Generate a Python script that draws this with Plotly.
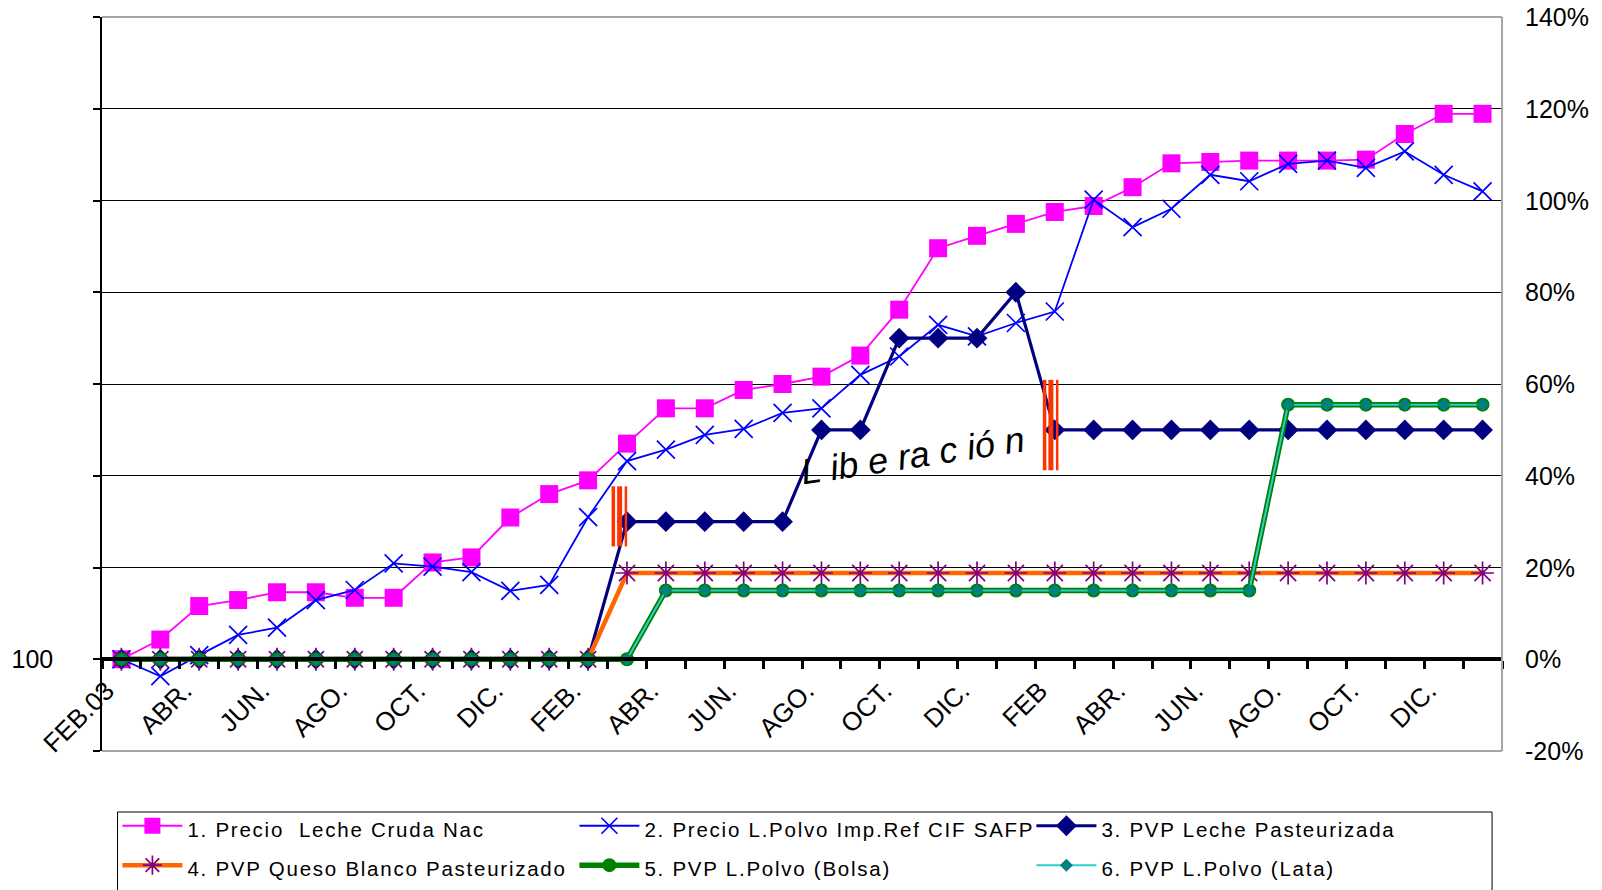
import plotly.graph_objects as go

months = ["FEB.03", "MAR.", "ABR.", "MAY.", "JUN.", "JUL.", "AGO.", "SEP.", "OCT.", "NOV.", "DIC.", "ENE.",
          "FEB.", "MAR.", "ABR.", "MAY.", "JUN.", "JUL.", "AGO.", "SEP.", "OCT.", "NOV.", "DIC.", "ENE.",
          "FEB", "MAR.", "ABR.", "MAY.", "JUN.", "JUL.", "AGO.", "SEP.", "OCT.", "NOV.", "DIC.", "ENE."]

leche_cruda = [0, 4.3, 11.6, 12.9, 14.6, 14.6, 13.4, 13.4, 21.1, 22.2, 30.9, 36.0,
               39.0, 47.0, 54.7, 54.7, 58.7, 60.0, 61.6, 66.2, 76.2, 89.6, 92.3, 94.9,
               97.5, 98.8, 102.9, 108.1, 108.4, 108.7, 108.7, 108.7, 108.9, 114.5, 118.9, 118.9]
polvo_imp = [0, -3.7, 0.9, 5.3, 6.9, 12.9, 15.1, 20.9, 20.2, 19.0, 14.9, 16.2,
             31.0, 43.2, 45.7, 48.9, 50.2, 53.7, 54.7, 62.0, 66.0, 72.9, 70.4, 73.3,
             75.8, 100.2, 94.2, 98.2, 105.6, 104.2, 108.0, 108.7, 107.1, 110.7, 105.6, 102.0]
leche_past = [0, 0, 0, 0, 0, 0, 0, 0, 0, 0, 0, 0,
              0, 30, 30, 30, 30, 30, 50, 50, 70, 70, 70, 80,
              50, 50, 50, 50, 50, 50, 50, 50, 50, 50, 50, 50]
queso = [0, 0, 0, 0, 0, 0, 0, 0, 0, 0, 0, 0,
         0, 18.8, 18.8, 18.8, 18.8, 18.8, 18.8, 18.8, 18.8, 18.8, 18.8, 18.8,
         18.8, 18.8, 18.8, 18.8, 18.8, 18.8, 18.8, 18.8, 18.8, 18.8, 18.8, 18.8]
polvo_bolsa = [0, 0, 0, 0, 0, 0, 0, 0, 0, 0, 0, 0,
               0, 0, 15, 15, 15, 15, 15, 15, 15, 15, 15, 15,
               15, 15, 15, 15, 15, 15, 55.5, 55.5, 55.5, 55.5, 55.5, 55.5]
polvo_lata = [0, 0, 0, 0, 0, 0, 0, 0, 0, 0, 0, 0,
              0, 0, 15, 15, 15, 15, 15, 15, 15, 15, 15, 15,
              15, 15, 15, 15, 15, 15, 55.5, 55.5, 55.5, 55.5, 55.5, 55.5]

series_names = ["1. Precio\u00a0 Leche Cruda Nac", "2. Precio L.Polvo Imp.Ref CIF SAFP",
                "3. PVP Leche Pasteurizada", "4. PVP Queso Blanco Pasteurizado",
                "5. PVP L.Polvo (Bolsa)", "6. PVP L.Polvo (Lata)"]

tick_vals = [-20, 0, 20, 40, 60, 80, 100, 120, 140]
right_tick_text = ["-20%", "0%", "20%", "40%", "60%", "80%", "100%", "120%", "140%"]
left_tick_text = ["", "100", "", "", "", "", "", "", ""]

# annotation: "Liberación" label and the two release markers (category position, value range)
liberacion_text = "L ib e ra c ió n"
liberacion_pos = (20.34, 44.4)
release_marks = [(12.81, 24.6, 37.7), (23.9, 41.2, 60.9)]

x = list(range(len(months)))
FONT = "Liberation Sans, Arial, sans-serif"

styles = [
    dict(line=dict(color="#FF00FF", width=1.8), marker=dict(symbol="square", size=18, color="#FF00FF")),
    dict(line=dict(color="#0000FF", width=1.8), marker=dict(symbol="x-thin-open", size=18, color="#0000FF",
                                                           line=dict(color="#0000FF", width=1.7))),
    dict(line=dict(color="#000080", width=3.2), marker=dict(symbol="diamond", size=16, color="#000080")),
    dict(line=dict(color="#FF6600", width=4.5), marker=dict(symbol="asterisk-open", size=19, color="#800080",
                                                           line=dict(color="#800080", width=1.7))),
    dict(line=dict(color="#008000", width=5.5), marker=dict(symbol="circle", size=14, color="#008000")),
    dict(line=dict(color="#33CCCC", width=2), marker=dict(symbol="diamond", size=10, color="#008080")),
]
values = [leche_cruda, polvo_imp, leche_past, queso, polvo_bolsa, polvo_lata]

fig = go.Figure()
for name, vals, st in zip(series_names, values, styles):
    fig.add_trace(go.Scatter(
        x=x, y=vals, mode="lines+markers",
        name='<span style="font-size:20.5px;letter-spacing:1.75px">' + name + '</span>',
        line=st["line"], marker=st["marker"], hoverinfo="skip"))

shapes = []
for (cx, y0, y1) in release_marks:
    for off, w in [(-6.3, 3.5), (0, 5), (6.3, 2.5)]:
        shapes.append(dict(type="line", xref="x", yref="y", xsizemode="pixel", xanchor=cx,
                           x0=off, x1=off, y0=y0, y1=y1, line=dict(color="#FF3300", width=w)))
# plot-area frame (top, right, bottom)
frame = "#A6A6A6"
shapes += [
    dict(type="line", xref="paper", yref="paper", x0=0, x1=1, y0=1, y1=1, line=dict(color=frame, width=2)),
    dict(type="line", xref="paper", yref="paper", x0=1, x1=1, y0=0, y1=1, line=dict(color=frame, width=2)),
    dict(type="line", xref="paper", yref="paper", x0=0, x1=1, y0=0, y1=0, line=dict(color=frame, width=2)),
    # legend box (continues past the bottom edge, as in the original)
    dict(type="rect", xref="paper", yref="paper", x0=0.0111, x1=0.9929, y0=-0.25, y1=-0.0831,
         line=dict(color="black", width=1), fillcolor="rgba(0,0,0,0)"),
]

annotations = [dict(x=liberacion_pos[0], y=liberacion_pos[1], xref="x", yref="y",
                    text="<i>" + liberacion_text + "</i>", showarrow=False, textangle=-8.5,
                    font=dict(family=FONT, size=36, color="black"))]
# right-hand percentage scale labels
for v, t in zip(tick_vals, right_tick_text):
    annotations.append(dict(x=1, y=v, xref="paper", yref="y", text=t, showarrow=False,
                            xanchor="left", yanchor="middle", xshift=22, borderpad=0,
                            font=dict(family=FONT, size=25, color="black")))

fig.update_layout(
    width=1594, height=882,
    margin=dict(l=94, r=100, t=9, b=139, autoexpand=False),
    paper_bgcolor="white", plot_bgcolor="white",
    font=dict(family=FONT, color="black", size=24),
    showlegend=True,
    legend=dict(orientation="h", x=0.011, y=-0.0682, xanchor="left", yanchor="top",
                borderwidth=0, bgcolor="rgba(0,0,0,0)",
                font=dict(family=FONT, size=28, color="black"),
                entrywidth=382, entrywidthmode="pixels", itemwidth=60, traceorder="normal"),
    xaxis=dict(range=[-0.5, len(months) - 0.5], anchor="free", position=0.125,
               tickmode="array", tickvals=x[::2], ticktext=months[::2], tickangle=-45,
               tickfont=dict(family=FONT, size=26, color="black"),
               ticks="", showgrid=False, zeroline=False,
               showline=True, linecolor="black", linewidth=4,
               minor=dict(tickmode="linear", tick0=0.5, dtick=1, ticks="outside",
                          ticklen=8, tickwidth=3, tickcolor="black", showgrid=False),
               ticklabelstandoff=4, ticklabelshift=-15),
    yaxis=dict(range=[-20, 140], side="left", tickmode="array", tickvals=tick_vals,
               ticktext=left_tick_text, showgrid=True, gridcolor="black", gridwidth=1,
               zeroline=False, showline=True, linecolor="black", linewidth=1.5,
               ticks="outside", ticklen=7, tickwidth=1.5, tickcolor="black",
               tickfont=dict(family=FONT, size=25, color="black"), ticklabelstandoff=35),
    shapes=shapes,
    annotations=annotations,
)

fig.write_html("out.html")
